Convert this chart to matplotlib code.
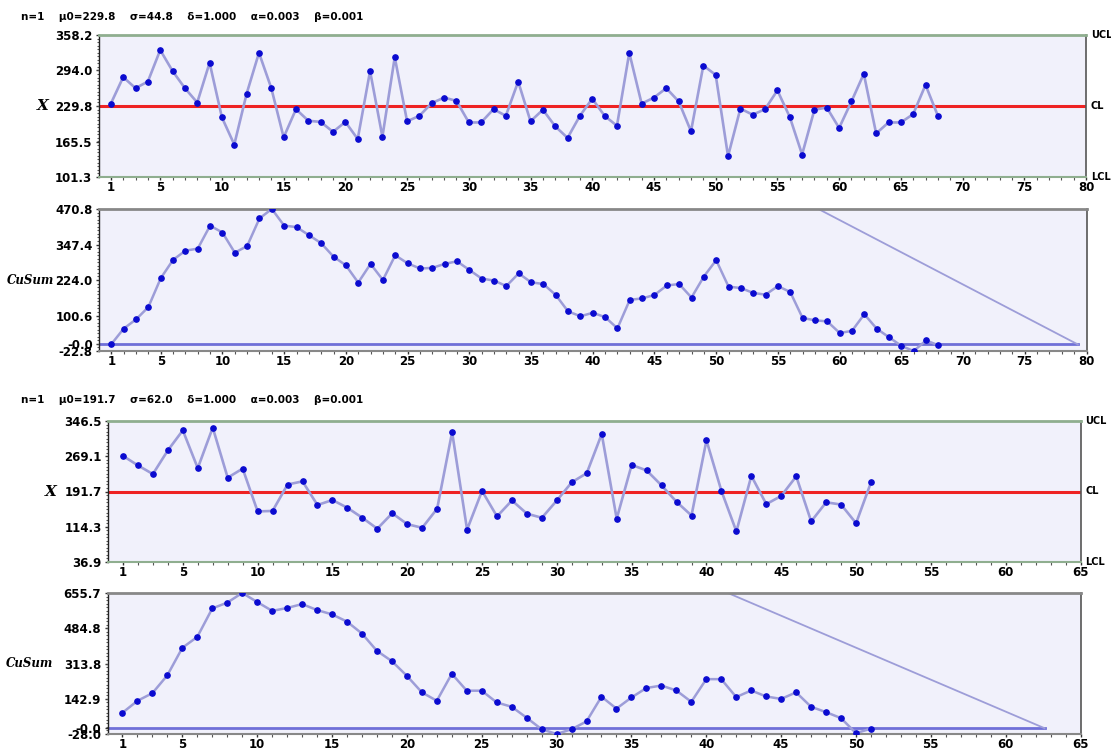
import numpy as np
import matplotlib
matplotlib.use("Agg")
import matplotlib.pyplot as plt

# ---------------- data ----------------
header1 = "n=1    \u03bc0=229.8    \u03c3=44.8    \u03b4=1.000    \u03b1=0.003    \u03b2=0.001"
header2 = "n=1    \u03bc0=191.7    \u03c3=62.0    \u03b4=1.000    \u03b1=0.003    \u03b2=0.001"

x1 = [234, 282, 262, 274, 331, 293, 262, 236, 308, 209,
      160, 252, 326, 262, 173, 224, 203, 201, 183, 201,
      170, 293, 174, 318, 202, 212, 235, 245, 239, 200,
      200, 224, 212, 274, 202, 223, 193, 172, 212, 243,
      212, 194, 326, 234, 245, 262, 238, 184, 303, 286,
      139, 225, 214, 224, 258, 210, 142, 223, 227, 190,
      238, 288, 180, 200, 200, 215, 268, 212]
cus1 = [1, 55, 87, 130, 230, 294, 326, 333, 413, 389,
        319, 342, 438, 471, 413, 408, 380, 352, 305, 275,
        215, 280, 224, 310, 282, 264, 266, 280, 289, 259,
        229, 222, 203, 247, 216, 210, 172, 115, 98, 110,
        95, 56, 155, 160, 172, 205, 210, 163, 236, 293,
        201, 196, 179, 173, 203, 182, 92, 84, 80, 40,
        47, 105, 55, 25, -5, -23, 14, -3]
x2 = [270, 249, 230, 282, 326, 243, 332, 222, 242, 148,
      149, 207, 214, 162, 173, 156, 134, 110, 144, 120,
      112, 154, 322, 108, 193, 137, 172, 143, 134, 172,
      212, 232, 318, 132, 250, 238, 205, 169, 139, 304,
      193, 104, 226, 164, 182, 225, 126, 168, 163, 122, 212]
cus2 = [75, 133, 170, 257, 390, 443, 581, 609, 656, 612,
        569, 583, 602, 573, 552, 517, 459, 375, 325, 254,
        174, 133, 264, 182, 182, 125, 104, 51, -5, -28,
        -5, 33, 153, 95, 149, 195, 207, 183, 128, 238,
        238, 151, 183, 154, 142, 174, 104, 78, 49, -24, -2]

# chart limits / ticks
x1_ticks = [1, 5, 10, 15, 20, 25, 30, 35, 40, 45, 50, 55, 60, 65, 70, 75, 80]
x2_ticks = [1, 5, 10, 15, 20, 25, 30, 35, 40, 45, 50, 55, 60, 65]
x1_max, x2_max = 80, 65
xbar1_ticks = [101.3, 165.5, 229.8, 294.0, 358.2]
xbar2_ticks = [36.9, 114.3, 191.7, 269.1, 346.5]
cl1, cl2 = 229.8, 191.7
cus1_ticks = [-22.8, 0.0, 100.6, 224.0, 347.4, 470.8]
cus2_ticks = [-28.0, 0.0, 142.9, 313.8, 484.8, 655.7]
cus1_label_at, cus2_label_at = 224.0, 313.8
# V-mask arm: vertex position and slope (k = delta*sigma/2)
mask1_vertex, mask1_slope = 79.3, 22.4
mask2_vertex, mask2_slope = 62.6, 31.0

# ---------------- style ----------------
W, H = 1111, 749
BG = "#f1f1fb"
LINE = "#9d9dd8"
DOT = "#0a0ad0"
GREEN = "#8fae8f"
fig = plt.figure(figsize=(W / 100, H / 100), dpi=100)
FS = 8.5
FONT = "DejaVu Sans"


def add_ax(l, r, t, b):
    return fig.add_axes([l / W, 1 - b / H, (r - l) / W, (b - t) / H])


def fmt(v):
    s = f"{v:.1f}"
    if v == 0:
        s = "-0.0"
    return s


def style(ax, xmax, xticks, yticks, xchart):
    ax.set_facecolor(BG)
    ax.set_xlim(0, xmax)
    ax.set_ylim(min(yticks), max(yticks))
    ax.set_xticks(xticks)
    ax.set_xticklabels([str(t) for t in xticks], fontsize=FS, fontweight="bold", family=FONT)
    ax.set_xticks(np.arange(1, xmax + 1), minor=True)
    ax.set_yticks(yticks)
    ax.set_yticklabels([fmt(t) for t in yticks], fontsize=FS, fontweight="bold", family=FONT)
    ax.set_yticks(np.linspace(min(yticks), max(yticks), 41), minor=True)
    ax.tick_params(axis="both", which="major", length=2.5, width=1, color="#333333", pad=2)
    ax.tick_params(axis="both", which="minor", length=1.8, width=0.8, color="#555555")
    ax.tick_params(axis="x", pad=0.5)
    edge = GREEN if xchart else "#888888"
    ax.spines["top"].set_color(edge)
    ax.spines["top"].set_linewidth(2)
    ax.spines["bottom"].set_color(edge)
    ax.spines["bottom"].set_linewidth(1.5)
    ax.spines["left"].set_color("#222222")
    ax.spines["left"].set_linewidth(1)
    ax.spines["right"].set_color("#555555")
    ax.spines["right"].set_linewidth(1.2)


def xchart(ax, data, cl, yticks, xmax, xticks, lab_x):
    idx = np.arange(1, len(data) + 1)
    style(ax, xmax, xticks, yticks, True)
    ax.axhline(cl, color="#ee2222", lw=2.2, zorder=2)
    ax.plot(idx, data, color=LINE, lw=1.9, zorder=3)
    ax.plot(idx, data, "o", color=DOT, ms=3.8, zorder=4)
    ax.text(lab_x, cl, "X", transform=ax.get_yaxis_transform(), ha="center", va="center",
            fontsize=11, fontweight="bold", fontstyle="italic", family="DejaVu Serif")
    for txt, v in zip(["UCL", "CL", "LCL"], [max(yticks), cl, min(yticks)]):
        ax.text(1.005, v, txt, transform=ax.get_yaxis_transform(), ha="left", va="center",
                fontsize=7, fontweight="bold", family=FONT)


def cuschart(ax, data, yticks, xmax, xticks, vertex, slope, lab_y, lab_x):
    idx = np.arange(1, len(data) + 1)
    style(ax, xmax, xticks, yticks, False)
    ax.plot([0, vertex], [0, 0], color="#6f6fd8", lw=2, zorder=2)
    top = max(yticks) * 1.5
    ax.plot([vertex, vertex - top / slope], [0, top], color=LINE, lw=1.3, zorder=2)
    ax.plot(idx, data, color=LINE, lw=1.8, zorder=3)
    ax.plot(idx, data, "o", color=DOT, ms=3.8, zorder=4)
    ax.text(lab_x, lab_y, "CuSum", transform=ax.get_yaxis_transform(), ha="center", va="center",
            fontsize=8.5, fontweight="bold", fontstyle="italic", family="DejaVu Serif")


ax1 = add_ax(98.5, 1086, 35, 177)
ax2 = add_ax(99, 1086.5, 209, 351)
ax3 = add_ax(108, 1080.5, 421, 562)
ax4 = add_ax(107.5, 1080.5, 593, 734)

xchart(ax1, x1, cl1, xbar1_ticks, x1_max, x1_ticks, -0.056)
cuschart(ax2, cus1, cus1_ticks, x1_max, x1_ticks, mask1_vertex, mask1_slope, cus1_label_at, -0.069)
xchart(ax3, x2, cl2, xbar2_ticks, x2_max, x2_ticks, -0.059)
cuschart(ax4, cus2, cus2_ticks, x2_max, x2_ticks, mask2_vertex, mask2_slope, cus2_label_at, -0.08)

fig.text(21 / W, 1 - 17 / H, header1, fontsize=7.5, fontweight="bold", family=FONT, va="center")
fig.text(21 / W, 1 - 400 / H, header2, fontsize=7.5, fontweight="bold", family=FONT, va="center")

fig.savefig("out.png", dpi=100, facecolor="white")
